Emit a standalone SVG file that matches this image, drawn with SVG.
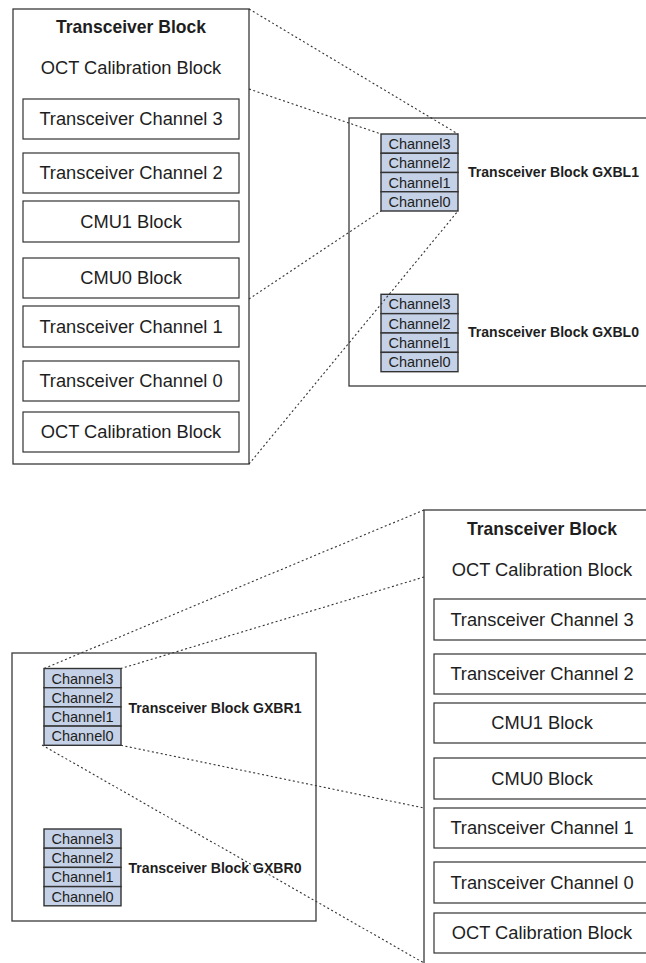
<svg xmlns="http://www.w3.org/2000/svg" width="646" height="963" viewBox="0 0 646 963">
<style>
.outer{fill:#fff;stroke:#3a3a3a;stroke-width:1.3}
.box{fill:#fff;stroke:#333;stroke-width:1.2}
.ch{fill:#c5d1e6;stroke:#333;stroke-width:1.4}
.t{font-family:"Liberation Sans",Arial,sans-serif;font-size:18.3px;fill:#1e1e1e;text-anchor:middle}
.tt{font-family:"Liberation Sans Narrow","Liberation Sans",Arial,sans-serif;font-weight:bold;font-size:19px;fill:#1e1e1e;text-anchor:middle}
.ct{font-family:"Liberation Sans",Arial,sans-serif;font-size:14.5px;fill:#1e1e1e;text-anchor:middle}
.lb{font-family:"Liberation Sans Narrow","Liberation Sans",Arial,sans-serif;font-weight:bold;font-size:14px;fill:#1e1e1e}
.dot{fill:none;stroke:#333;stroke-width:1.1;stroke-dasharray:2 2.5}
</style>

<g id="block-top-left">
<rect class="outer" x="13" y="9" width="236" height="455"/>
<text class="tt" x="131" y="33" textLength="150" lengthAdjust="spacingAndGlyphs">Transceiver Block</text>
<text class="t" x="131" y="74">OCT Calibration Block</text>
<rect class="box" x="23" y="99" width="216" height="40"/>
<text class="t" x="131" y="125">Transceiver Channel 3</text>
<rect class="box" x="23" y="153" width="216" height="40"/>
<text class="t" x="131" y="179">Transceiver Channel 2</text>
<rect class="box" x="23" y="201" width="216" height="41"/>
<text class="t" x="131" y="228">CMU1 Block</text>
<rect class="box" x="23" y="258" width="216" height="40"/>
<text class="t" x="131" y="284">CMU0 Block</text>
<rect class="box" x="23" y="306" width="216" height="41"/>
<text class="t" x="131" y="333">Transceiver Channel 1</text>
<rect class="box" x="23" y="361" width="216" height="40"/>
<text class="t" x="131" y="387">Transceiver Channel 0</text>
<rect class="box" x="23" y="412" width="216" height="40"/>
<text class="t" x="131" y="438">OCT Calibration Block</text>
</g>

<g id="block-top-right">
<rect class="outer" x="349" y="118" width="320" height="268"/>
<g id="gxbl1">
<rect class="ch" x="381" y="134" width="77" height="19.25"/>
<rect class="ch" x="381" y="153.25" width="77" height="19.25"/>
<rect class="ch" x="381" y="172.5" width="77" height="19.25"/>
<rect class="ch" x="381" y="191.75" width="77" height="19.25"/>
<text class="ct" x="419.5" y="149">Channel3</text>
<text class="ct" x="419.5" y="168.3">Channel2</text>
<text class="ct" x="419.5" y="187.5">Channel1</text>
<text class="ct" x="419.5" y="206.8">Channel0</text>
<text class="lb" x="468" y="177" textLength="171" lengthAdjust="spacingAndGlyphs">Transceiver Block GXBL1</text>
</g>
<g id="gxbl0">
<rect class="ch" x="381" y="294.3" width="77" height="19.35"/>
<rect class="ch" x="381" y="313.65" width="77" height="19.35"/>
<rect class="ch" x="381" y="333" width="77" height="19.35"/>
<rect class="ch" x="381" y="352.35" width="77" height="19.35"/>
<text class="ct" x="419.5" y="309.3">Channel3</text>
<text class="ct" x="419.5" y="328.7">Channel2</text>
<text class="ct" x="419.5" y="348">Channel1</text>
<text class="ct" x="419.5" y="367.4">Channel0</text>
<text class="lb" x="468" y="337" textLength="171" lengthAdjust="spacingAndGlyphs">Transceiver Block GXBL0</text>
</g>
</g>

<g id="block-bottom-left">
<rect class="outer" x="12" y="653" width="304" height="268"/>
<g id="gxbr1">
<rect class="ch" x="44" y="668.5" width="77" height="19.2"/>
<rect class="ch" x="44" y="687.7" width="77" height="19.2"/>
<rect class="ch" x="44" y="706.9" width="77" height="19.2"/>
<rect class="ch" x="44" y="726.1" width="77" height="19.2"/>
<text class="ct" x="82.5" y="683.5">Channel3</text>
<text class="ct" x="82.5" y="702.7">Channel2</text>
<text class="ct" x="82.5" y="721.9">Channel1</text>
<text class="ct" x="82.5" y="741.1">Channel0</text>
<text class="lb" x="128.5" y="713" textLength="173" lengthAdjust="spacingAndGlyphs">Transceiver Block GXBR1</text>
</g>
<g id="gxbr0">
<rect class="ch" x="44" y="829" width="77" height="19.2"/>
<rect class="ch" x="44" y="848.2" width="77" height="19.2"/>
<rect class="ch" x="44" y="867.4" width="77" height="19.2"/>
<rect class="ch" x="44" y="886.6" width="77" height="19.2"/>
<text class="ct" x="82.5" y="844">Channel3</text>
<text class="ct" x="82.5" y="863.2">Channel2</text>
<text class="ct" x="82.5" y="882.4">Channel1</text>
<text class="ct" x="82.5" y="901.6">Channel0</text>
<text class="lb" x="128.5" y="873" textLength="173" lengthAdjust="spacingAndGlyphs">Transceiver Block GXBR0</text>
</g>
</g>

<g id="block-bottom-right">
<rect class="outer" x="424" y="510" width="236" height="470"/>
<text class="tt" x="542" y="535" textLength="150" lengthAdjust="spacingAndGlyphs">Transceiver Block</text>
<text class="t" x="542" y="576">OCT Calibration Block</text>
<rect class="box" x="434" y="599" width="216" height="41"/>
<text class="t" x="542" y="626">Transceiver Channel 3</text>
<rect class="box" x="434" y="654" width="216" height="40"/>
<text class="t" x="542" y="680">Transceiver Channel 2</text>
<rect class="box" x="434" y="703" width="216" height="40"/>
<text class="t" x="542" y="729">CMU1 Block</text>
<rect class="box" x="434" y="758" width="216" height="41"/>
<text class="t" x="542" y="785">CMU0 Block</text>
<rect class="box" x="434" y="808" width="216" height="40"/>
<text class="t" x="542" y="834">Transceiver Channel 1</text>
<rect class="box" x="434" y="862" width="216" height="41"/>
<text class="t" x="542" y="889">Transceiver Channel 0</text>
<rect class="box" x="434" y="913" width="216" height="40"/>
<text class="t" x="542" y="939">OCT Calibration Block</text>
</g>

<g id="connectors">
<line class="dot" x1="249" y1="9" x2="458" y2="134"/>
<line class="dot" x1="249" y1="89" x2="381" y2="134"/>
<line class="dot" x1="249" y1="299" x2="381" y2="211"/>
<line class="dot" x1="249" y1="464" x2="458" y2="211"/>
<line class="dot" x1="424" y1="510" x2="44" y2="668.5"/>
<line class="dot" x1="424" y1="577" x2="121" y2="668.5"/>
<line class="dot" x1="121" y1="745.3" x2="424" y2="808"/>
<line class="dot" x1="42" y1="745" x2="424" y2="963"/>
</g>
</svg>
